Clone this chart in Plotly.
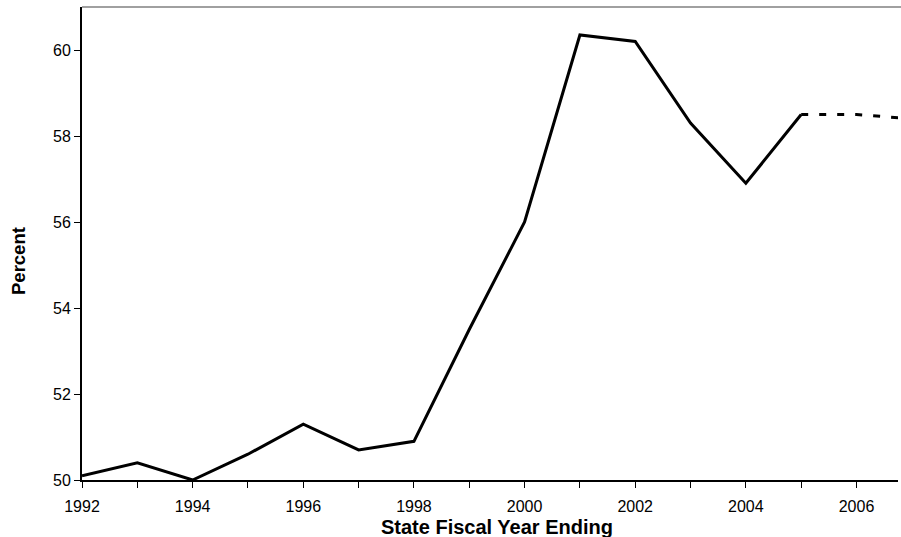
import plotly.graph_objects as go

# Fiscal years and share (percent), actual values
years_actual = [1992, 1993, 1994, 1995, 1996, 1997, 1998, 1999, 2000, 2001, 2002, 2003, 2004, 2005]
pct_actual = [50.1, 50.4, 50.0, 50.6, 51.3, 50.7, 50.9, 53.5, 56.0, 60.35, 60.2, 58.3, 56.9, 58.5]

# Projected values
years_proj = [2005, 2006, 2007]
pct_proj = [58.5, 58.5, 58.4]

x_ticks = [1992, 1994, 1996, 1998, 2000, 2002, 2004, 2006]
y_ticks = [50, 52, 54, 56, 58, 60]

font_family = "Liberation Sans, Arial, sans-serif"

fig = go.Figure()
fig.add_trace(go.Scatter(
    x=years_actual, y=pct_actual, mode="lines",
    line=dict(color="black", width=3), showlegend=False,
))
fig.add_trace(go.Scatter(
    x=years_proj, y=pct_proj, mode="lines",
    line=dict(color="black", width=3, dash="7px,11px"), showlegend=False,
))

fig.update_layout(
    width=901, height=537,
    margin=dict(l=82, r=3, t=7, b=57),
    paper_bgcolor="white", plot_bgcolor="white",
    font=dict(family=font_family, size=16, color="black"),
    xaxis=dict(
        range=[1992, 2006.75], tickvals=x_ticks, ticktext=[str(v) for v in x_ticks],
        showgrid=False, zeroline=False, showline=True, linecolor="black", linewidth=2,
        ticks="outside", ticklen=6, tickcolor="black", tickwidth=1,
        minor=dict(dtick=1, tick0=1992, ticks="outside", ticklen=6, tickcolor="black", showgrid=False),
        tickfont=dict(size=16), ticklabelstandoff=5,
    ),
    yaxis=dict(
        range=[50, 61], tickvals=y_ticks,
        showgrid=False, zeroline=False, showline=True, linecolor="black", linewidth=2,
        ticks="outside", ticklen=6, tickcolor="black", tickwidth=1,
        tickfont=dict(size=16),
    ),
    annotations=[
        dict(text="<b>State Fiscal Year Ending</b>", xref="paper", yref="paper",
             x=(497 - 82) / (898 - 82), y=-(527 - 480) / 473, showarrow=False,
             xanchor="center", yanchor="middle", font=dict(size=20)),
        dict(text="<b>Percent</b>", xref="paper", yref="paper",
             x=-(82 - 18) / 816, y=(480 - 261) / 473, showarrow=False, textangle=-90,
             xanchor="center", yanchor="middle", font=dict(size=18.5)),
    ],
    shapes=[
        dict(type="line", xref="paper", yref="paper", x0=0, x1=1.01, y0=1, y1=1,
             line=dict(color="#808080", width=1.5)),
    ],
)

fig.write_html("out.html")
